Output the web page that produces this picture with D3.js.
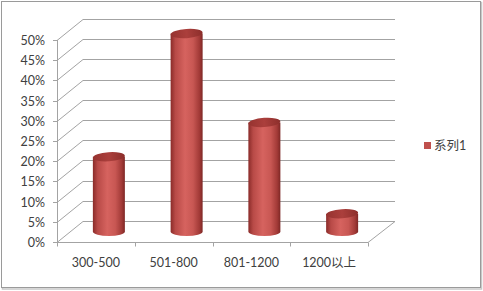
<!DOCTYPE html>
<html><head><meta charset="utf-8">
<script src="https://cdn.jsdelivr.net/npm/d3@7"></script>
<style>body{margin:0;background:#fff;}svg{display:block;}</style>
</head><body>
<svg id="c" width="483" height="291"></svg>
<script>
const categories = ["300-500", "501-800", "801-1200", "1200以上"];
const values = [18.5, 49, 27, 4.4];
const yTicks = [0, 5, 10, 15, 20, 25, 30, 35, 40, 45, 50];
const seriesName = "系列1";

const svg = d3.select("#c");
const font = "Lato, 'Noto Sans CJK SC', sans-serif";
const gridCol = "#a3a3a3";
const DX = 26, DY = -21;

// outer frame with shadow
svg.append("rect").attr("x", 2.5).attr("y", 2.5).attr("width", 479).attr("height", 286.5)
  .attr("fill", "none").attr("stroke", "#c8c8c8").attr("stroke-width", 1.5);
svg.append("rect").attr("x", 1.5).attr("y", 1.5).attr("width", 479).attr("height", 286)
  .attr("fill", "#fff").attr("stroke", "#9a9a9a").attr("stroke-width", 1);

const x = d3.scaleBand().domain(categories).range([57, 368]);
const y = d3.scaleLinear().domain([0, 50]).range([242, 40]);
const xEnd = 395;

const g = svg.append("g");
yTicks.forEach(t => {
  const yy = Math.round(y(t)) + 0.5;
  g.append("path")
    .attr("d", `M57,${yy} L${57 + DX},${yy + DY} L${xEnd},${yy + DY}`)
    .attr("fill", "none").attr("stroke", gridCol).attr("stroke-width", 1);
});
const y0 = Math.round(y(0)) + 0.5;
g.append("path").attr("d", `M57,${y0} L368,${y0} L${xEnd},${y0 + DY}`)
  .attr("fill", "none").attr("stroke", gridCol);
g.append("line").attr("x1", 57.5).attr("x2", 57.5).attr("y1", y(50)).attr("y2", y0)
  .attr("stroke", gridCol);
yTicks.forEach(t => {
  const yy = Math.round(y(t)) + 0.5;
  g.append("line").attr("x1", 53).attr("x2", 57).attr("y1", yy).attr("y2", yy).attr("stroke", gridCol);
  g.append("text").attr("x", 45).attr("y", yy).attr("dy", "0.35em").attr("text-anchor", "end")
    .attr("font-family", font).attr("font-size", 12.5).attr("fill", "#404040").text(t + "%");
});
const xt = categories.map(c => x(c)).concat([368]);
xt.forEach(v => {
  const xx = Math.round(v) + 0.5;
  g.append("line").attr("x1", xx).attr("x2", xx).attr("y1", y0).attr("y2", y0 + 4).attr("stroke", gridCol);
});
categories.forEach(c => {
  g.append("text").attr("x", x(c) + x.bandwidth() / 2).attr("y", 263).attr("dy", "0.35em")
    .attr("text-anchor", "middle").attr("font-family", font).attr("font-size", 12.5)
    .attr("fill", "#404040").text(c);
});

const defs = svg.append("defs");
const grad = defs.append("linearGradient").attr("id", "cyl").attr("x1", "0").attr("x2", "1").attr("y1", "0").attr("y2", "0");
[["0", "#8a2b29"], ["0.15", "#b84a47"], ["0.45", "#d6635f"], ["0.7", "#c85753"], ["0.9", "#a23a37"], ["1", "#7e2725"]]
  .forEach(([o, c]) => grad.append("stop").attr("offset", o).attr("stop-color", c));
const gradTop = defs.append("linearGradient").attr("id", "cylTop").attr("x1", "0").attr("x2", "1").attr("y1", "0").attr("y2", "0");
[["0", "#963330"], ["0.5", "#ab3f3c"], ["1", "#8c2e2b"]]
  .forEach(([o, c]) => gradTop.append("stop").attr("offset", o).attr("stop-color", c));

const rx = 16, ry = 4.6;
const bars = g.selectAll("g.bar").data(values).enter().append("g");
bars.each(function (v, i) {
  const cx = x(categories[i]) + x.bandwidth() / 2 + DX / 2;
  const top = y(v) + DY / 2;
  const bot = y(0) + DY / 2;
  const s = d3.select(this);
  s.append("path")
    .attr("d", `M${cx - rx},${top} L${cx - rx},${bot} A${rx},${ry} 0 0 0 ${cx + rx},${bot} L${cx + rx},${top} Z`)
    .attr("fill", "url(#cyl)");
  s.append("ellipse").attr("cx", cx).attr("cy", top).attr("rx", rx).attr("ry", ry)
    .attr("transform", `rotate(-4 ${cx} ${top})`)
    .attr("fill", "url(#cylTop)");
});

svg.append("rect").attr("x", 424).attr("y", 142).attr("width", 7).attr("height", 7).attr("fill", "#c0504d");
svg.append("text").attr("x", 434).attr("y", 145.5).attr("dy", "0.35em")
  .attr("font-family", font).attr("font-size", 12.5).attr("fill", "#404040").text(seriesName);
</script>
</body></html>
